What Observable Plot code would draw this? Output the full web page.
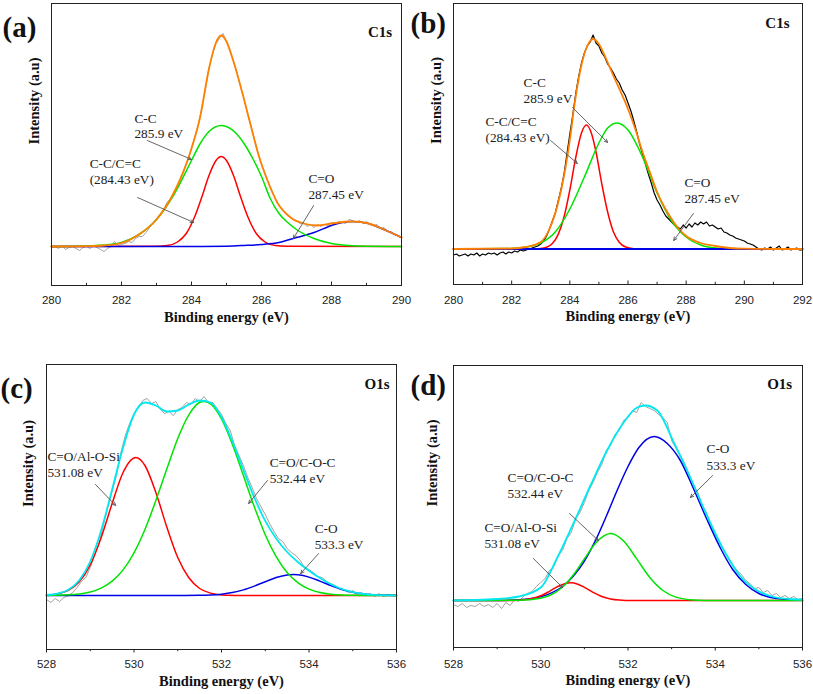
<!DOCTYPE html>
<html><head><meta charset="utf-8">
<script src="https://cdn.jsdelivr.net/npm/d3@7"></script>
<script src="https://cdn.jsdelivr.net/npm/@observablehq/plot@0.6"></script>
<style>
body{margin:0;background:#fff;}
#wrap{position:relative;width:813px;height:694px;overflow:hidden;background:#fff;}
#wrap svg{position:absolute;overflow:visible;}
</style></head><body><div id="wrap"></div>
<script>
// ---------- DATA ----------
const rawStep = 0.1;
// Panel (a) C1s
const aTicks = [280, 282, 284, 286, 288, 290];
const aMinor = [281, 283, 285, 287, 289];
const aRawStart = 280;
const aRaw = [-1,0,-2,1,-3,-1,0,-2,-4,-1, 0,-2,1,-1,-3,-5,-2,0,5,1, 2,3,5,4,8,10,10,14,19,23,
  28,32,37,44,48,55,61,68,77,87, 98,110,122,140,158,178,192,203,208,213, 205,195,186,174,160,148,133,121,107,94,
  82,73,64,56,48,41,37,33,30,27, 26,23,24,20,22,19,22,20,22,21, 24,22,25,24,23,27,26,24,26,23,
  25,22,21,22,18,19,15,15,12,11, 9];
const aRed = [[280,0],[283.0,0.2],[283.3,0.9],[283.6,4.5],[283.85,13],[284.1,30.5],[284.3,50],[284.5,71],[284.7,86],[284.85,90],[285.0,86],[285.2,71],[285.4,50],[285.6,30.5],[285.85,13],[286.1,4.5],[286.4,0.9],[286.7,0.2],[290,0]];
const aGreen = [[280,0],[281,0.5],[281.5,1.5],[282,4],[282.5,12],[283,27],[283.5,52],[284,86],[284.25,103],[284.5,115],[284.85,121],[285.25,114],[285.5,103],[285.75,88],[286,70],[286.25,48],[286.5,33],[286.75,24],[287,17],[287.5,8],[288,3],[288.5,1],[289,0.3],[290,0]];
const aBlue = [[280,0],[284,0],[285,0.3],[285.5,1],[286,2],[286.5,4],[287,9],[287.5,14],[288,21],[288.3,24],[288.6,25],[289,23.5],[289.5,17],[290,9]];
const aTotal = [[280,0],[281,0.4],[281.5,1],[282,3.5],[282.5,12],[283,27],[283.5,54],[284,98],[284.25,130],[284.5,178],[284.7,204],[284.85,211],[285.0,205],[285.2,185],[285.45,154],[285.7,120],[285.92,91],[286.16,67],[286.45,44],[286.83,29],[287.2,23],[287.6,21],[288,23],[288.6,25],[289,23.5],[289.5,17],[290,9]];
const aNotes = [{x:282.37,y:127.5,t:"C-C"},{x:282.37,y:112.5,t:"285.9 eV"},{x:281.09,y:82.5,t:"C-C/C=C"},{x:281.09,y:66.5,t:"(284.43 eV)"},{x:287.34,y:67.5,t:"C=O"},{x:287.34,y:51.5,t:"287.45 eV"}];
const aArrows = [{x1:282.74,y1:106,x2:284.0,y2:87},{x1:282.46,y1:49,x2:284.06,y2:24},{x1:287.49,y1:41,x2:286.91,y2:8}];

// Panel (b) C1s
const bTicks = [280, 282, 284, 286, 288, 290, 292];
const bMinor = [281, 283, 285, 287, 289, 291];
const bRawStart = 280;
const bRaw = [-6,-5,-7,-6,-5,-7,-5,-6,-4,-7, -5,-6,-4,-5,-4,-6,-4,-3,-5,-3, -4,-2,-3,-1,-2,-1,0,1,2,3,
  5,8,13,20,28,36,48,60,75,95, 115,134,155,172,186,196,203,207,214,206, 203,196,192,185,181,176,170,166,159,154,
  146,138,128,117,105,95,85,75,66,56, 49,44,38,33,30,27,24,22,20,24, 21,25,22,26,24,27,25,27,23,24,
  22,20,21,17,16,14,13,11,10,9, 8,6,5,4,2,0,-1,1,0,2, -1,1,3,-1,0,2,-1,0,1,-1, -1];
const bRed = [[280,0],[282.6,0],[283.0,0.5],[283.2,1.7],[283.4,5.5],[283.6,14.6],[283.8,32],[284.0,59],[284.2,91],[284.4,116],[284.57,124],[284.75,115],[284.9,97],[285.1,65],[285.3,37],[285.5,17],[285.7,6.8],[285.9,2.2],[286.2,0.3],[286.6,0],[292,0]];
const bGreen = [[280,0],[282,0.4],[282.5,1.9],[283,6],[283.5,17],[284,40],[284.5,72],[285,106],[285.3,121],[285.63,126],[286,119],[286.5,92],[287,56],[287.5,28],[288,12],[288.5,4],[289,1],[289.5,0.2],[290,0],[292,0]];
const bBlue = [[280,0],[286,0],[292,0]];
const bTotal = [[280,0],[282,0.5],[282.5,2],[283,7],[283.3,20],[283.57,43],[283.8,73],[284.02,113],[284.14,140],[284.37,180],[284.6,203],[284.8,210],[285,205],[285.25,190],[285.5,173],[285.75,157],[286,140],[286.25,120],[286.5,97],[286.75,77],[287,57],[287.25,42],[287.5,30],[287.75,20],[288,13],[288.5,6],[289,3],[289.5,1],[290,0.3],[291,0],[292,0]];
const bNotes = [{x:282.41,y:166,t:"C-C"},{x:282.41,y:150,t:"285.9 eV"},{x:281.10,y:127,t:"C-C/C=C"},{x:281.10,y:111,t:"(284.43 eV)"},{x:287.94,y:66,t:"C=O"},{x:287.94,y:50,t:"287.45 eV"}];
const bArrows = [{x1:284.09,y1:141.5,x2:285.30,y2:106.5},{x1:283.34,y1:108.5,x2:284.26,y2:85.5},{x1:288.25,y1:35.5,x2:287.57,y2:8.5}];

// Panel (c) O1s
const cTicks = [528, 530, 532, 534, 536];
const cMinor = [529, 531, 533, 535];
const cRawStart = 528;
const cRaw = [-4,-7,-3,-6,-2,0,3,8,14,18, 28,40,52,70,88,104,120,143,160,172, 182,188,195,197,192,194,186,182,184,180,
  186,188,193,191,197,194,199,193,193,187, 181,172,165,150,140,130,118,108,97,89, 81,72,64,57,54,47,43,40,35,28,
  26,23,19,18,14,12,10,7,6,3, 5,1,3,0,2,-1,2,-1,1,0, 1];
const cRed = [[528,0.4],[528.25,1.6],[528.5,5.1],[528.75,13.7],[529,30.7],[529.25,58],[529.5,92],[529.75,123],[530.04,138],[530.25,130],[530.5,103],[530.75,68.5],[531,38],[531.25,18],[531.5,7],[531.75,2.4],[532,0.6],[532.3,0.1],[532.6,0],[536,0]];
const cGreen = [[528,0.1],[528.5,0.7],[528.75,1.6],[529,3.5],[529.25,7.4],[529.5,14.3],[529.75,25.6],[530,42.7],[530.25,66],[530.5,95],[530.75,126.5],[531,157],[531.25,180.4],[531.5,193],[531.6,194],[531.75,191.5],[532,176.5],[532.25,151],[532.5,120],[532.75,88.7],[533,60.8],[533.25,38.8],[533.5,22.9],[533.75,12.6],[534,6.4],[534.25,3],[534.5,1.3],[534.75,0.5],[535,0.2],[535.5,0],[536,0]];
const cBlue = [[528,0],[531,0],[531.5,0.2],[531.75,0.55],[532,1.35],[532.25,2.9],[532.5,5.6],[532.75,9.4],[533,13.8],[533.25,18],[533.5,20.6],[533.64,21],[533.75,20.7],[534,18.4],[534.25,14.4],[534.5,9.9],[534.75,6],[535,3.2],[535.25,1.5],[535.5,0.6],[535.75,0.2],[536,0.1]];
const cTotal = [[528,0.5],[528.25,1.9],[528.5,5.8],[528.75,15.3],[529,34],[529.25,65],[529.5,106],[529.75,148],[530,181],[530.25,193],[530.5,190],[530.75,184],[531,185],[531.25,191],[531.5,195],[531.75,193],[532,178.5],[532.25,154],[532.5,125.6],[532.75,98],[533,74.6],[533.25,57],[533.5,43.5],[533.75,33.3],[534,24.8],[534.25,17.4],[534.5,11.2],[534.75,6.5],[535,3.4],[535.25,1.5],[535.5,0.6],[535.75,0.2],[536,0.1]];
const cNotes = [{x:528.02,y:138.5,t:"C=O/Al-O-Si"},{x:528.02,y:122.5,t:"531.08 eV"},{x:533.10,y:132.5,t:"C=O/C-O-C"},{x:533.10,y:116.5,t:"532.44 eV"},{x:534.13,y:66.5,t:"C-O"},{x:534.13,y:50.5,t:"533.3 eV"}];
const cArrows = [{x1:529.12,y1:111,x2:529.58,y2:90},{x1:533.05,y1:115,x2:532.62,y2:92},{x1:534.22,y1:42,x2:533.81,y2:22}];

// Panel (d) O1s
const dTicks = [528, 530, 532, 534, 536];
const dMinor = [529, 531, 533, 535];
const dRawStart = 528;
const dRaw = [-4,-6,-3,-7,-5,-6,-3,-6,-4,-7, -3,-8,-2,-5,1,-1,4,7,9,14, 18,22,30,34,45,50,62,68,82,88,
  98,110,118,128,136,150,155,166,170,180, 183,190,188,198,194,192,190,186,183,178, 160,152,145,137,126,116,108,95,88,74,
  66,57,50,43,36,30,26,20,17,12, 13,8,10,5,7,3,5,2,4,1, 2];
const dRed = [[528,0],[529.2,0.03],[529.5,0.3],[529.8,1.9],[530,4.7],[530.2,9.2],[530.4,14.2],[530.55,16.9],[530.68,17.7],[530.85,16.3],[531,13.2],[531.2,8.2],[531.4,4],[531.6,1.6],[531.8,0.5],[532.1,0],[536,0]];
const dGreen = [[528,0],[529.5,0.2],[530,2.3],[530.25,6],[530.5,13.5],[530.75,25.8],[531,41.6],[531.25,57],[531.6,67],[531.9,59.5],[532.2,41.6],[532.5,23],[532.8,10],[533.1,3.4],[533.5,0.6],[534,0],[536,0]];
const dBlue = [[528,0],[529,0.1],[529.5,0.8],[530,3.8],[530.25,7.6],[530.5,14],[530.75,24.5],[531,39.5],[531.25,59.6],[531.5,84],[531.75,110],[532,134],[532.25,153],[532.6,164],[532.9,157],[533.2,140],[533.5,112],[533.8,82],[534.1,54],[534.4,31],[534.7,16],[535,7],[535.4,2.1],[536,0.3]];
const dTotal = [[528,0.2],[528.5,0.5],[529,1.5],[529.5,4],[530,13],[530.37,42],[530.76,78],[531.14,115],[531.52,150],[531.9,178],[532.21,193],[532.4,195],[532.67,190],[533.05,158],[533.44,122],[533.82,84],[534.2,50],[534.58,24],[534.96,10],[535.3,4],[535.7,1.5],[536,1]];
const dNotes = [{x:533.80,y:151.5,t:"C-O"},{x:533.80,y:134.5,t:"533.3 eV"},{x:529.24,y:122.5,t:"C=O/C-O-C"},{x:529.24,y:106.5,t:"532.44 eV"},{x:528.71,y:72.5,t:"C=O/Al-O-Si"},{x:528.71,y:56.5,t:"531.08 eV"}];
const dArrows = [{x1:533.94,y1:125,x2:533.43,y2:103},{x1:530.66,y1:87,x2:531.32,y2:60},{x1:529.83,y1:42,x2:530.50,y2:13}];

// ---------- STYLE ----------
const SERIF = "'Liberation Serif','Times New Roman',serif";
const SANS = "'Liberation Sans',Arial,sans-serif";
const C = {red:"#ff0000", green:"#00e400", blue:"#0000e6", orange:"#ff8000", cyan:"#00e8f0", gray:"#8a8a8a", black:"#000000"};

function panel(p) {
  const [y0] = p.yDomain;
  const raw = p.raw.map((v, i) => [p.rawStart + i * rawStep, v]);
  const dir = p.inward ? 1 : -1;
  const marks = [
    Plot.line(raw, {x: d => d[0], y: d => d[1], stroke: p.rawColor, strokeWidth: p.rawWidth}),
    ...p.curves.map(c => Plot.line(c.data, {x: d => d[0], y: d => d[1], stroke: c.color, strokeWidth: c.w, curve: "monotone-x"})),
    Plot.frame({stroke: "#222", strokeWidth: 1}),
    Plot.ruleX(p.ticks, {x: d => d, y1: y0, y2: y0 + dir * 3.5, stroke: "#222"}),
    Plot.ruleX(p.minor, {x: d => d, y1: y0, y2: y0 + dir * 2.2, stroke: "#222"}),
    Plot.axisX({ticks: p.ticks, tickSize: 0, tickPadding: p.tickPadding, tickFormat: d => String(d), label: null, fontSize: 11.5, fontFamily: SANS, fill: "#222"}),
    Plot.arrow(p.arrows, {x1: "x1", y1: "y1", x2: "x2", y2: "y2", stroke: "#555", strokeWidth: 0.9, headLength: 6, headAngle: 50}),
    Plot.text(p.notes, {x: "x", y: "y", text: "t", textAnchor: "start", fontFamily: SERIF, fontSize: 13.3, fill: "#222"}),
    Plot.text([p.letter], {frameAnchor: "top-left", dx: p.letterDx, dy: p.letterDy, textAnchor: "start", fontFamily: SERIF, fontWeight: "bold", fontSize: 29, fill: "#111"}),
    Plot.text([p.core], {frameAnchor: "top-right", dx: p.coreDx, dy: p.coreDy, textAnchor: "end", fontFamily: SERIF, fontWeight: "bold", fontSize: 15, fill: "#111"}),
    Plot.text(["Binding energy (eV)"], {frameAnchor: "bottom", dy: p.xtDy, fontFamily: SERIF, fontWeight: "bold", fontSize: 14.5, fill: "#111"}),
    Plot.text(["Intensity (a.u)"], {frameAnchor: "left", dx: p.ytDx, rotate: -90, fontFamily: SERIF, fontWeight: "bold", fontSize: 14.5, fill: "#111"})
  ];
  const svg = Plot.plot({
    width: p.w, height: p.h,
    marginLeft: p.ml, marginRight: p.mr, marginTop: p.mt, marginBottom: p.mb,
    x: {domain: p.xDomain},
    y: {domain: p.yDomain, axis: null},
    style: {background: "transparent", overflow: "visible", fontFamily: SANS, fontSize: "11.5px", color: "#222"},
    marks
  });
  svg.style.left = p.left + "px";
  svg.style.top = p.top + "px";
  document.getElementById("wrap").appendChild(svg);
}

panel({left: 0, top: 0, w: 408, h: 338, ml: 51, mr: 7, mt: 3, mb: 53,
  xDomain: [280, 290], yDomain: [-39, 243], ticks: aTicks, minor: aMinor, inward: true, tickPadding: 10.8,
  raw: aRaw, rawStart: aRawStart, rawColor: C.gray, rawWidth: 0.8,
  curves: [{data: aRed, color: C.red, w: 1.5}, {data: aBlue, color: C.blue, w: 1.5}, {data: aGreen, color: C.green, w: 1.5}, {data: aTotal, color: C.orange, w: 1.8}],
  notes: aNotes, arrows: aArrows, letter: "(a)", letterDx: -49, letterDy: 12.5, core: "C1s", coreDx: -9.3, coreDy: 22.7, xtDy: 36.7, ytDx: -16.7});

panel({left: 408, top: 0, w: 405, h: 338, ml: 45, mr: 11, mt: 3, mb: 54,
  xDomain: [280, 292], yDomain: [-35.5, 245.5], ticks: bTicks, minor: bMinor, inward: true, tickPadding: 11.1,
  raw: bRaw, rawStart: bRawStart, rawColor: C.black, rawWidth: 1.2,
  curves: [{data: bRed, color: C.red, w: 1.5}, {data: bGreen, color: C.green, w: 1.5}, {data: bBlue, color: C.blue, w: 1.8}, {data: bTotal, color: C.orange, w: 1.8}],
  notes: bNotes, arrows: bArrows, letter: "(b)", letterDx: -43, letterDy: 9.2, core: "C1s", coreDx: -13, coreDy: 13.9, xtDy: 36, ytDx: -17.3});

panel({left: 0, top: 338, w: 408, h: 356, ml: 46, mr: 12, mt: 26, mb: 45,
  xDomain: [528, 536], yDomain: [-54, 231], ticks: cTicks, minor: cMinor, inward: false, tickPadding: 10.1,
  raw: cRaw, rawStart: cRawStart, rawColor: C.gray, rawWidth: 0.8,
  curves: [{data: cRed, color: C.red, w: 1.5}, {data: cBlue, color: C.blue, w: 1.5}, {data: cGreen, color: C.green, w: 1.5}, {data: cTotal, color: C.cyan, w: 1.8}],
  notes: cNotes, arrows: cArrows, letter: "(c)", letterDx: -46, letterDy: 13.2, core: "O1s", coreDx: -7, coreDy: 14.2, xtDy: 36, ytDx: -18.3});

panel({left: 408, top: 338, w: 405, h: 356, ml: 45, mr: 11, mt: 27, mb: 47,
  xDomain: [528, 536], yDomain: [-47, 235], ticks: dTicks, minor: dMinor, inward: false, tickPadding: 12.5,
  raw: dRaw, rawStart: dRawStart, rawColor: C.gray, rawWidth: 0.8,
  curves: [{data: dBlue, color: C.blue, w: 1.5}, {data: dRed, color: C.red, w: 1.5}, {data: dGreen, color: C.green, w: 1.5}, {data: dTotal, color: C.cyan, w: 1.8}],
  notes: dNotes, arrows: dArrows, letter: "(d)", letterDx: -43, letterDy: 8.8, core: "O1s", coreDx: -10.3, coreDy: 12.9, xtDy: 37.4, ytDx: -21.3});
</script>
</body></html>
